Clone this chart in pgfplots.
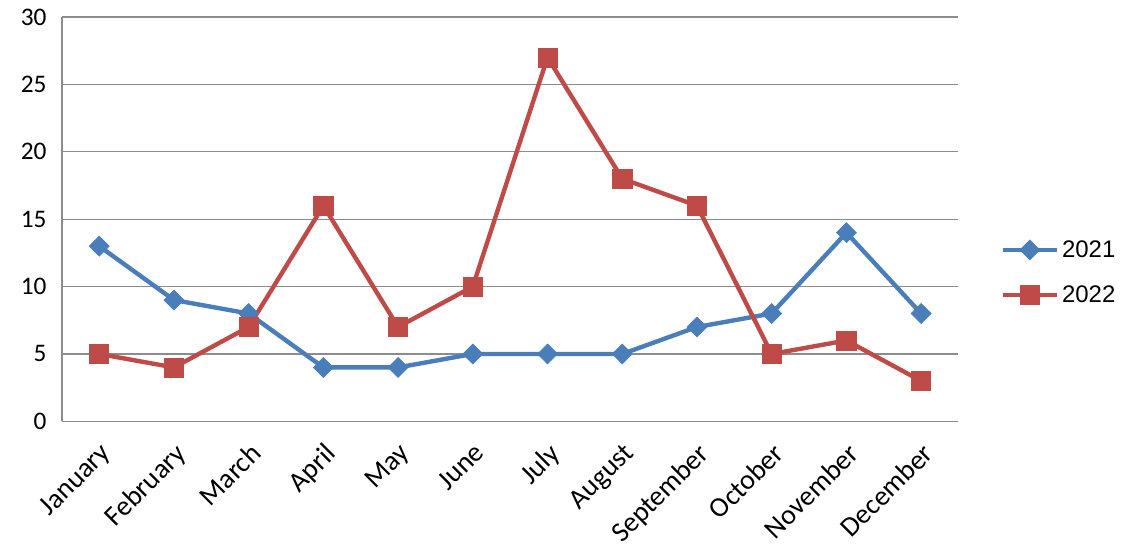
\documentclass[border=0pt]{standalone}
\usepackage{pgfplots}
\pgfplotsset{compat=1.18}
\usepackage{fontspec}
\setmainfont{Carlito}
\newfontfamily\arialf{Liberation Sans}
\definecolor{sblue}{HTML}{4A7EBB}
\definecolor{sred}{HTML}{BE4B48}
\definecolor{gridg}{HTML}{8C8C8C}
\begin{document}
\begin{tikzpicture}
\begin{axis}[
  scale only axis,
  width=673.5pt, height=303.75pt,
  xmin=-0.5, xmax=11.5,
  ymin=0, ymax=30,
  ytick={0,5,...,30},
  xtick={0,...,11},
  xticklabels={January,February,March,April,May,June,July,August,September,October,November,December},
  major tick length=0pt,
  ymajorgrids,
  grid style={gridg, line width=1pt},
  axis line style={gridg, line width=1pt},
  axis x line*=bottom,
  axis y line*=left,
  x axis line style={-},
  y axis line style={-},
  tick label style={font=\fontsize{19}{22}\selectfont, black},
  yticklabel style={xshift=-8pt},
  xticklabel style={font=\fontsize{21}{24}\selectfont, anchor=north east, inner sep=0pt, xshift=0pt, yshift=-15pt, rotate=45},
  /pgf/number format/assume math mode=true,
  clip=false,
  legend style={draw=none, fill=none, font=\arialf\fontsize{18}{21}\selectfont,
    at={(rel axis cs:1.042,0.368)}, anchor=west, row sep=16pt,
    legend cell align=left},
  legend image code/.code={\draw[#1, mark repeat=2, mark phase=2] plot coordinates {(0pt,0pt) (20.5pt,0pt) (41pt,0pt)};},
]
\path (rel axis cs:-0.069,-0.2938) rectangle (rel axis cs:1.1804,1.042);
\addplot[sblue, line width=3.3pt, mark=square*, mark size=5.3pt, mark options={solid, line width=0.5pt, rotate=45}] coordinates {
(0,13) (1,9) (2,8) (3,4) (4,4) (5,5) (6,5) (7,5) (8,7) (9,8) (10,14) (11,8)};
\addlegendentry{2021}
\addplot[sred, line width=3.3pt, mark=square*, mark size=7.2pt, mark options={solid, line width=0.5pt}] coordinates {
(0,5) (1,4) (2,7) (3,16) (4,7) (5,10) (6,27) (7,18) (8,16) (9,5) (10,6) (11,3)};
\addlegendentry{2022}
\end{axis}
\end{tikzpicture}
\end{document}
